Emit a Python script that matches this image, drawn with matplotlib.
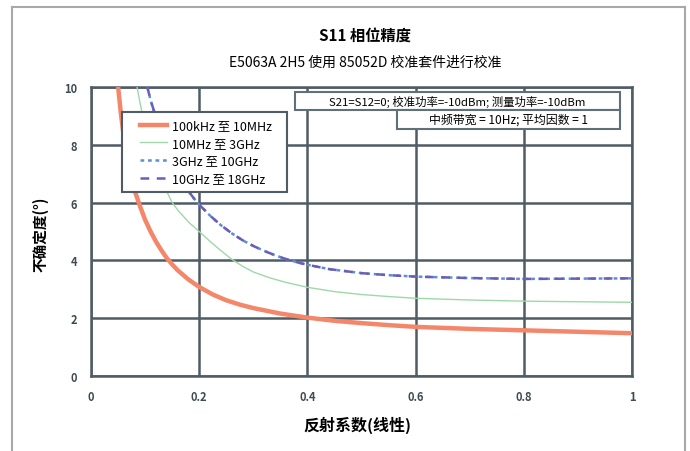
import matplotlib
matplotlib.use("Agg")
import matplotlib.pyplot as plt
from matplotlib.patches import Rectangle
from matplotlib.lines import Line2D

plt.rcParams['font.family'] = ['Noto Sans CJK SC', 'DejaVu Sans']

# 数据
x_red = [0.05, 0.055, 0.06, 0.065, 0.07, 0.075, 0.08, 0.09, 0.1, 0.11, 0.12, 0.13, 0.14, 0.15, 0.16, 0.18,
         0.2, 0.225, 0.25, 0.275, 0.3, 0.35, 0.4, 0.45, 0.5, 0.55, 0.6, 0.7, 0.8, 0.9, 1.0]
y_red = [10.0, 9.1, 8.35, 7.75, 7.25, 6.8, 6.45, 5.9, 5.4, 5.0, 4.65, 4.35, 4.08, 3.86, 3.66, 3.34,
         3.08, 2.82, 2.62, 2.47, 2.35, 2.16, 2.02, 1.91, 1.83, 1.76, 1.7, 1.63, 1.58, 1.53, 1.48]

x_green = [0.085, 0.09, 0.1, 0.11, 0.12, 0.13, 0.14, 0.15, 0.16, 0.18, 0.2, 0.22, 0.24, 0.26, 0.28, 0.3,
           0.33, 0.36, 0.4, 0.45, 0.5, 0.55, 0.6, 0.7, 0.8, 0.9, 1.0]
y_green = [10.0, 9.5, 8.6, 7.9, 7.3, 6.8, 6.38, 6.0, 5.75, 5.33, 5.0, 4.66, 4.34, 4.04, 3.8, 3.6,
           3.4, 3.24, 3.07, 2.92, 2.82, 2.75, 2.69, 2.63, 2.59, 2.57, 2.55]

x_blue = [0.104, 0.11, 0.12, 0.13, 0.14, 0.15, 0.16, 0.17, 0.18, 0.19, 0.2, 0.22, 0.24, 0.26, 0.28, 0.3,
          0.32, 0.34, 0.36, 0.38, 0.4, 0.44, 0.5, 0.55, 0.6, 0.7, 0.8, 0.9, 1.0]
y_blue = [10.0, 9.55, 8.95, 8.4, 7.9, 7.45, 7.05, 6.7, 6.4, 6.15, 5.93, 5.55, 5.22, 4.94, 4.7, 4.5,
          4.33, 4.18, 4.05, 3.94, 3.85, 3.7, 3.56, 3.49, 3.44, 3.39, 3.36, 3.37, 3.38]

x_purple = [0.104, 0.11, 0.12, 0.13, 0.14, 0.15, 0.16, 0.17, 0.18, 0.19, 0.2, 0.22, 0.24, 0.26, 0.28, 0.3,
            0.32, 0.34, 0.36, 0.38, 0.4, 0.44, 0.5, 0.55, 0.6, 0.7, 0.8, 0.9, 1.0]
y_purple = [10.0, 9.55, 8.95, 8.4, 7.9, 7.45, 7.05, 6.7, 6.4, 6.15, 5.93, 5.55, 5.22, 4.94, 4.7, 4.5,
            4.33, 4.18, 4.05, 3.94, 3.85, 3.7, 3.56, 3.49, 3.44, 3.39, 3.36, 3.37, 3.38]

labels = ['100kHz 至 10MHz', '10MHz 至 3GHz', '3GHz 至 10GHz', '10GHz 至 18GHz']
xticks = [0, 0.2, 0.4, 0.6, 0.8, 1]
xticklabels = ['0', '0.2', '0.4', '0.6', '0.8', '1']
yticks = [0, 2, 4, 6, 8, 10]

grid_col = '#505c64'

fig = plt.figure(figsize=(6.9, 4.52), dpi=100)
ax = fig.add_axes([0.132, 0.166, 0.784, 0.639])

# 外框
for xs, ys in [([12/690, 12/690], [0, 1-8/452]), ([12/690, 685/690], [1-8/452, 1-8/452]),
               ([685/690, 685/690], [1-8/452, 0])]:
    fig.add_artist(Line2D(xs, ys, color='#a8a8a8', lw=1.5, transform=fig.transFigure))

ax.plot(x_red, y_red, color='#f4876a', lw=3.2, label=labels[0], zorder=3)
ax.plot(x_green, y_green, color='#9fd8a8', lw=1.0, label=labels[1], zorder=3)
ax.plot(x_blue, y_blue, color='#5b8fd8', lw=1.8, dashes=(1.5, 1.5), label=labels[2], zorder=4)
ax.plot(x_purple, y_purple, color='#6a5fb8', lw=1.8, dashes=(3.5, 3), label=labels[3], zorder=4)

ax.set_xlim(0, 1)
ax.set_ylim(0, 10)
ax.set_xticks(xticks)
ax.set_xticklabels(xticklabels)
ax.set_yticks(yticks)
ax.grid(True, color=grid_col, lw=1.8)
ax.set_axisbelow(True)
for s in ax.spines.values():
    s.set_color(grid_col)
    s.set_linewidth(1.8)
ax.tick_params(length=0, pad=10, labelsize=8, labelcolor='#3c4a52')
for t in ax.get_xticklabels() + ax.get_yticklabels():
    t.set_fontweight('bold')

# 图例框
ax.add_patch(Rectangle((0.0573, 0.637), 0.305, 0.277, transform=ax.transAxes,
                       facecolor='white', edgecolor=grid_col, lw=1.5, zorder=5))
leg = ax.legend(loc='center left', bbox_to_anchor=(0.09, 0.775), borderaxespad=0, borderpad=0,
                fontsize=9, frameon=False, handlelength=2.2, labelspacing=0.38, handletextpad=0.4)
leg.set_zorder(6)

# 条件说明框
ax.add_patch(Rectangle((0.377, 0.920), 0.601, 0.063, transform=ax.transAxes,
                       facecolor='white', edgecolor='#607078', lw=1.5, zorder=6))
ax.text(0.677, 0.951, 'S21=S12=0; 校准功率=-10dBm; 测量功率=-10dBm', transform=ax.transAxes,
        ha='center', va='center', fontsize=8.2, zorder=7)
ax.add_patch(Rectangle((0.566, 0.855), 0.412, 0.065, transform=ax.transAxes,
                       facecolor='white', edgecolor='#607078', lw=1.5, zorder=6))
ax.text(0.772, 0.888, '中频带宽 = 10Hz; 平均因数 = 1', transform=ax.transAxes,
        ha='center', va='center', fontsize=8.6, zorder=7)

fig.text(365/690, 1-37/452, 'S11 相位精度', ha='center', va='center', fontsize=11, fontweight='bold')
fig.text(365/690, 1-63/452, 'E5063A 2H5 使用 85052D 校准套件进行校准', ha='center', va='center', fontsize=10)
fig.text(40/690, 1-234/452, '不确定度(°)', rotation=90, ha='center', va='center', fontsize=10.5, fontweight='bold')
fig.text(357/690, 1-425/452, '反射系数(线性)', ha='center', va='center', fontsize=11.5, fontweight='bold')

fig.savefig('out.png', dpi=100)
